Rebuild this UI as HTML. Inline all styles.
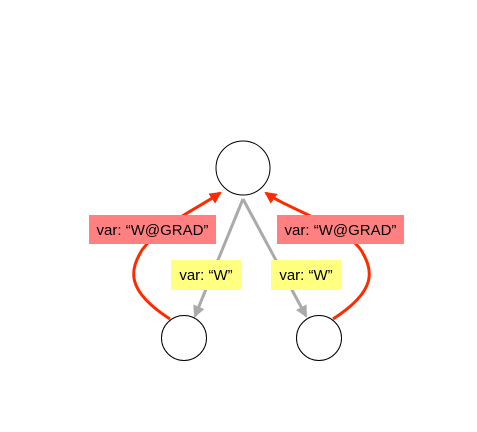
<!DOCTYPE html>
<html><head><style>body{margin:0;background:#fff}</style></head><body>
<svg width="477" height="432" xmlns="http://www.w3.org/2000/svg" style="display:block">
<defs>
<marker id="g" markerWidth="12" markerHeight="12" refX="10" refY="6" orient="auto" markerUnits="userSpaceOnUse"><path d="M0,0 L12,6 L0,12 z" fill="#aaa"/></marker>
<marker id="r" markerWidth="12" markerHeight="12" refX="10" refY="6" orient="auto" markerUnits="userSpaceOnUse"><path d="M0,0 L12,6 L0,12 z" fill="#ff2a00"/></marker>
</defs>
<g fill="none" stroke-width="3">
<path d="M243,199 L195,316" stroke="#aaa" marker-end="url(#g)"/>
<path d="M243,199 L306,316" stroke="#aaa" marker-end="url(#g)"/>
<path d="M170,319 C125,290 130,270 142,250 C160,225 195,210 220,193" stroke="#ff2a00" marker-end="url(#r)"/>
<path d="M333,319 C378,290 373,270 361,250 C343,225 290,210 266,193" stroke="#ff2a00" marker-end="url(#r)"/>
</g>
<g fill="#fff" stroke="#000" stroke-width="1">
<circle cx="243" cy="168" r="27"/>
<circle cx="184" cy="338" r="22.5"/>
<circle cx="319" cy="338" r="22.5"/>
</g>
<g font-family="Liberation Sans, sans-serif" font-size="15" fill="#000">
<rect x="89" y="215" width="127" height="29" fill="#ff8080"/>
<text x="152.5" y="235" text-anchor="middle">var: “W@GRAD”</text>
<rect x="277" y="215" width="127" height="29" fill="#ff8080"/>
<text x="340.5" y="235" text-anchor="middle">var: “W@GRAD”</text>
<rect x="171" y="260" width="70" height="30" fill="#ffff80"/>
<text x="206" y="280" text-anchor="middle">var: “W”</text>
<rect x="271" y="260" width="70" height="30" fill="#ffff80"/>
<text x="306" y="280" text-anchor="middle">var: “W”</text>
</g>
</svg>
</body></html>
